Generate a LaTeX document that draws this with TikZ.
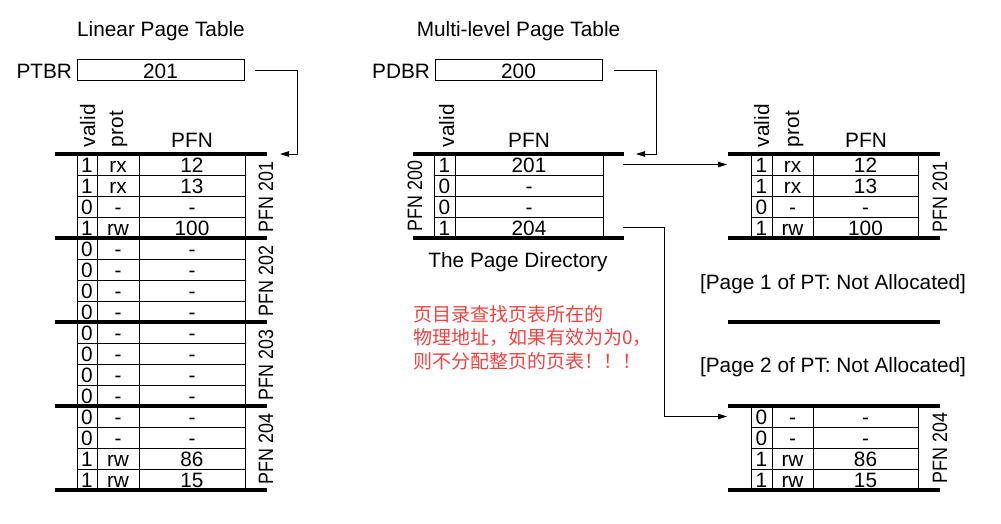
\documentclass[tikz,border=0pt]{standalone}
\usepackage{fontspec}
\setmainfont{Liberation Sans}
\newfontfamily\cjk{Noto Sans CJK SC}
\usetikzlibrary{arrows.meta}
\definecolor{cjkred}{RGB}{240,66,66}
\newcommand\grouptext[1]{\scalebox{0.86}[1]{#1}}
\begin{document}
\begin{tikzpicture}[x=1pt,y=-1pt,
  every node/.style={font=\fontsize{20.8}{24}\selectfont, inner sep=0pt, outer sep=0pt},
  thickln/.style={line width=3.2pt},
  thinln/.style={line width=1pt},
  arr/.style={line width=1pt, -{Triangle[length=9pt,width=5.5pt]}},
  cell/.style={anchor=base},
  vlab/.style={rotate=90, anchor=base west},
  glab/.style={rotate=90, anchor=base},
  regbox/.style={draw, line width=1pt, minimum width=167pt, minimum height=21pt},
  notetext/.style={anchor=base west, text=cjkred, font=\cjk\fontsize{19}{23.5}\selectfont}]
\useasboundingbox (0,0) rectangle (1001,523);

% ---------- titles ----------
\node[cell] (t1) at (161,36) {Linear Page Table};
\node[cell] (t2) at (518.5,36) {Multi-level Page Table};

% ---------- registers ----------
\node[anchor=base east] (ptbrl) at (72,78) {PTBR};
\node[regbox] (ptbr) at (160.5,70) {};
\node[cell] (ptbrv) at (160.5,78) {201};
\node[anchor=base east] (pdbrl) at (430,78) {PDBR};
\node[regbox] (pdbr) at (518.5,70) {};
\node[cell] (pdbrv) at (518.5,78) {200};

% ---------- linear page table ----------
\node[vlab] (lhv) at (95,147) {valid};
\node[vlab] (lhp) at (123,147) {prot};
\node[cell] (lhf) at (192,147) {PFN};
\foreach \i in {1,...,15} {
  \draw[thinln] (77,{154+21*\i}) -- (245,{154+21*\i});
}
\foreach \x in {77,97,139,245} {
  \draw[thinln] (\x,154) -- (\x,490);
}
\foreach \g in {0,...,4} {
  \draw[thickln] (55,{154+84*\g}) -- (267,{154+84*\g});
}
\foreach \v/\p/\f [count=\i from 0] in {1/rx/12,1/rx/13,0/-/-,1/rw/100,
  0/-/-,0/-/-,0/-/-,0/-/-,0/-/-,0/-/-,0/-/-,0/-/-,0/-/-,0/-/-,1/rw/86,1/rw/15} {
  \node[cell] (lv\i) at (87,{172.5+21*\i}) {\v};
  \node[cell] (lp\i) at (118,{172.5+21*\i}) {\p};
  \node[cell] (lf\i) at (192,{172.5+21*\i}) {\f};
}
\foreach \n [count=\k from 0] in {201,202,203,204} {
  \node[glab] (lg\n) at (273,{197+84*\k}) {\grouptext{PFN \n}};
}

% ---------- page directory ----------
\node[vlab] (mhv) at (454,147) {valid};
\node[cell] (mhf) at (529,147) {PFN};
\foreach \i in {1,2,3} {
  \draw[thinln] (434,{154+21*\i}) -- (603,{154+21*\i});
}
\foreach \x in {434,455,603} {
  \draw[thinln] (\x,154) -- (\x,238);
}
\draw[thickln] (413,154) -- (624,154);
\draw[thickln] (413,238) -- (624,238);
\foreach \v/\f [count=\i from 0] in {1/201,0/-,0/-,1/204} {
  \node[cell] (mv\i) at (444.5,{172.5+21*\i}) {\v};
  \node[cell] (mf\i) at (529,{172.5+21*\i}) {\f};
}
\node[glab] (mg) at (422,196) {\grouptext{PFN 200}};
\node[cell] (pdcap) at (518,267) {The Page Directory};

% ---------- right: PFN 201 ----------
\node[vlab] (rhv) at (769,147) {valid};
\node[vlab] (rhp) at (799,147) {prot};
\node[cell] (rhf) at (866,147) {PFN};
\foreach \i in {1,2,3} {
  \draw[thinln] (751,{154+21*\i}) -- (918,{154+21*\i});
  \draw[thinln] (751,{406+21*\i}) -- (918,{406+21*\i});
}
\foreach \x in {751,772,813,918} {
  \draw[thinln] (\x,154) -- (\x,238);
  \draw[thinln] (\x,406) -- (\x,490);
}
\foreach \y in {154,238,322,406,490} {
  \draw[thickln] (728,\y) -- (940,\y);
}
\foreach \v/\p/\f [count=\i from 0] in {1/rx/12,1/rx/13,0/-/-,1/rw/100} {
  \node[cell] (rav\i) at (761.5,{172.5+21*\i}) {\v};
  \node[cell] (rap\i) at (792.5,{172.5+21*\i}) {\p};
  \node[cell] (raf\i) at (865.5,{172.5+21*\i}) {\f};
}
\foreach \v/\p/\f [count=\i from 0] in {0/-/-,0/-/-,1/rw/86,1/rw/15} {
  \node[cell] (rbv\i) at (761.5,{424.5+21*\i}) {\v};
  \node[cell] (rbp\i) at (792.5,{424.5+21*\i}) {\p};
  \node[cell] (rbf\i) at (865.5,{424.5+21*\i}) {\f};
}
\node[glab] (rga) at (947,197) {\grouptext{PFN 201}};
\node[glab] (rgb) at (947,448) {\grouptext{PFN 204}};
\node[cell] (na1) at (833,289) {[Page 1 of PT: Not Allocated]};
\node[cell] (na2) at (833,372) {[Page 2 of PT: Not Allocated]};

% ---------- note ----------
\node[notetext] (note1) at (413,321) {页目录查找页表所在的};
\node[notetext] (note2) at (413,344.5) {物理地址，如果有效为为0，};
\node[notetext] (note3) at (413,368) {则不分配整页的页表！！！};

% ---------- connectors ----------
\coordinate (ltbend) at (297,154);
\coordinate (ltin) at (280,154);
\draw[arr] ([xshift=11pt]ptbr.east) -| (ltbend) -- (ltin);
\coordinate (mtbend) at (656,154);
\coordinate (mtin) at (636,154);
\draw[arr] ([xshift=12pt]pdbr.east) -| (mtbend) -- (mtin);
\coordinate (d1) at (623,164.5);
\coordinate (rtin) at (727,164.5);
\draw[arr] (d1) -- (rtin);
\coordinate (d4) at (623,227.5);
\coordinate (rbbend) at (664,416.5);
\coordinate (rbin) at (727,416.5);
\draw[arr] (d4) -| (rbbend) -- (rbin);
\end{tikzpicture}
\end{document}
